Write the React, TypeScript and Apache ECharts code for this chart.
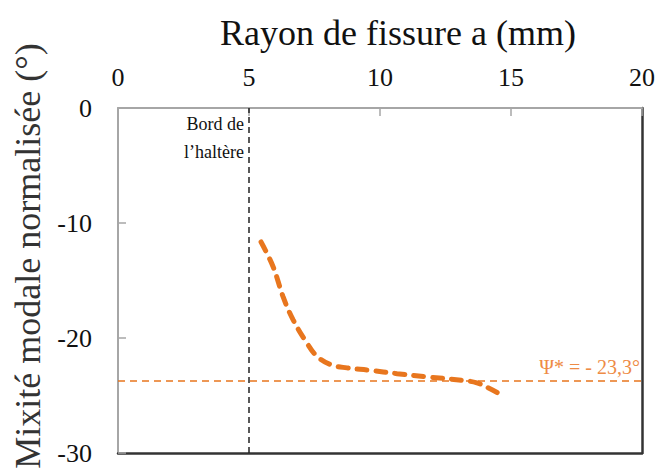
import React, { useEffect, useRef } from "react";
import * as echarts from "echarts";

const crackRadius = [5.46, 5.92, 6.3, 6.68, 7.2, 7.6, 8.1, 8.74, 9.6, 10.65, 11.9, 13.2, 13.7, 14.1, 14.6];
const mixity = [-11.65, -13.8, -16.4, -18.4, -20.4, -21.6, -22.3, -22.6, -22.8, -23.1, -23.4, -23.7, -23.9, -24.3, -24.9];
const psiStar = -23.7;
const psiLabel = "Ψ* = - 23,3°";
const edgeX = 5;
const edgeLabel = "Bord de\nl’haltère";
const xTitle = "Rayon de fissure a (mm)";
const yTitle = "Mixité modale normalisée (°)";

const ORANGE = "#E8761E";
const SERIF = "Liberation Serif";

export default function App() {
  const ref = useRef<HTMLDivElement>(null);
  useEffect(() => {
    if (!ref.current) return;
    const chart = echarts.init(ref.current, undefined, { renderer: "svg" });
    const data = crackRadius.map((x, i) => [x, mixity[i]]);
    chart.setOption({
      animation: false,
      backgroundColor: "#ffffff",
      grid: { left: 118, right: 17, top: 108, bottom: 16, containLabel: false },
      xAxis: [
        {
          type: "value",
          position: "top",
          min: 0,
          max: 20,
          interval: 5,
          axisLine: { show: true, onZero: false, lineStyle: { color: "#a6a6a6", width: 2 } },
          axisTick: { show: true, inside: true, length: 8, lineStyle: { color: "#a6a6a6", width: 1.5 } },
          axisLabel: { color: "#111", fontFamily: SERIF, fontSize: 26, margin: 18 },
          splitLine: { show: false },
        },
        {
          type: "value",
          position: "bottom",
          min: 0,
          max: 20,
          interval: 5,
          axisLine: { show: true, onZero: false, lineStyle: { color: "#333", width: 2.5 } },
          axisTick: { show: false },
          axisLabel: { show: false },
          splitLine: { show: false },
        },
      ],
      yAxis: [
        {
          type: "value",
          position: "left",
          min: -30,
          max: 0,
          interval: 10,
          axisLine: { show: true, onZero: false, lineStyle: { color: "#a6a6a6", width: 2 } },
          axisTick: { show: true, inside: true, length: 8, lineStyle: { color: "#a6a6a6", width: 1.5 } },
          axisLabel: { color: "#111", fontFamily: SERIF, fontSize: 26, margin: 26 },
          splitLine: { show: false },
        },
        {
          type: "value",
          position: "right",
          min: -30,
          max: 0,
          interval: 10,
          axisLine: { show: true, onZero: false, lineStyle: { color: "#333", width: 2.5 } },
          axisTick: { show: false },
          axisLabel: { show: false },
          splitLine: { show: false },
        },
      ],
      series: [
        {
          type: "line",
          xAxisIndex: 0,
          yAxisIndex: 0,
          data,
          smooth: 0.4,
          showSymbol: false,
          lineStyle: { color: ORANGE, width: 5, type: [10, 9], cap: "round" },
          markLine: {
            silent: true,
            symbol: "none",
            data: [
              {
                yAxis: psiStar,
                lineStyle: { color: ORANGE, width: 1.5, type: [7, 5] },
                label: {
                  show: true,
                  position: "insideEndTop",
                  formatter: psiLabel,
                  color: "#EE8B45",
                  fontFamily: SERIF,
                  fontSize: 20,
                  distance: [2, 4],
                },
              },
              {
                xAxis: edgeX,
                lineStyle: { color: "#222", width: 1.5, type: [6, 4] },
                label: { show: false },
              },
            ],
          },
        },
      ],
      graphic: [
        {
          type: "text",
          x: 398,
          y: 33,
          style: {
            text: xTitle,
            fill: "#111",
            font: `36px "${SERIF}"`,
            textAlign: "center",
            textVerticalAlign: "middle",
          },
        },
        {
          type: "text",
          x: 28,
          y: 256,
          rotation: Math.PI / 2,
          style: {
            text: yTitle,
            fill: "#333",
            font: `36px "${SERIF}"`,
            textAlign: "center",
            textVerticalAlign: "middle",
          },
        },
        {
          type: "text",
          x: 244,
          y: 138,
          style: {
            text: edgeLabel,
            fill: "#111",
            font: `18px "${SERIF}"`,
            textAlign: "right",
            textVerticalAlign: "middle",
            lineHeight: 28,
          },
        },
      ],
    });
    return () => chart.dispose();
  }, []);
  return <div ref={ref} style={{ width: 659, height: 469, position: "absolute", left: 0, top: 0 }} />;
}
